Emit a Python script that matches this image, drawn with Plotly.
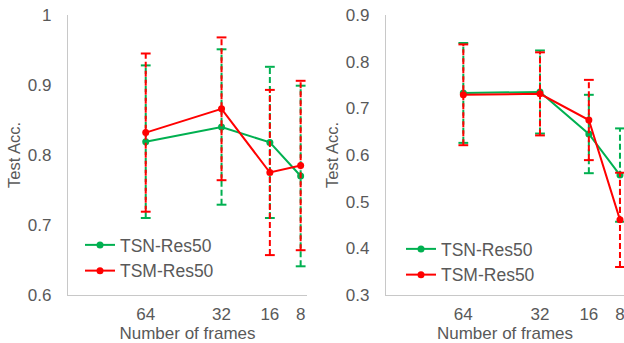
import plotly.graph_objects as go

# ---------------- data ----------------
frames = [64, 32, 16, 8]
frame_labels = ["64", "32", "16", "8"]

left_tsn = [0.819, 0.840, 0.818, 0.770]
left_tsn_err = [0.109, 0.111, 0.108, 0.129]
left_tsm = [0.832, 0.866, 0.775, 0.785]
left_tsm_err = [0.113, 0.102, 0.118, 0.121]

right_tsn = [0.733, 0.735, 0.645, 0.557]
right_tsn_err = [0.107, 0.089, 0.084, 0.100]
right_tsm = [0.729, 0.731, 0.675, 0.461]
right_tsm_err = [0.108, 0.089, 0.086, 0.101]

series_names = ["TSN-Res50", "TSM-Res50"]
GREEN = "#00B050"
RED = "#FF0000"
TEXT = "#595959"
AXIS = "#C8C8C8"
FONT = "Liberation Sans, Arial, sans-serif"

# power-scaled frame axis (as in the source chart spacing)
POW = 0.65
def xt(f):
    return f ** POW

xs = [xt(f) for f in frames]

fig = go.Figure()

def add_series(vals, errs, color, name, xa, ya, legend, showleg):
    # dashed error bars
    ex, ey, cx, cy = [], [], [], []
    for x, v, e in zip(xs, vals, errs):
        ex += [x, x, None]
        ey += [v - e, v + e, None]
        cx += [x, x]
        cy += [v - e, v + e]
    fig.add_trace(go.Scatter(x=ex, y=ey, mode="lines", xaxis=xa, yaxis=ya,
                             line=dict(color=color, width=2, dash="6px,3px"),
                             showlegend=False, hoverinfo="skip"))
    fig.add_trace(go.Scatter(x=cx, y=cy, mode="markers", xaxis=xa, yaxis=ya,
                             marker=dict(symbol="line-ew", size=7,
                                         line=dict(color=color, width=2)),
                             showlegend=False, hoverinfo="skip"))
    fig.add_trace(go.Scatter(x=xs, y=vals, mode="lines+markers", name=name,
                             xaxis=xa, yaxis=ya, legend=legend, showlegend=showleg,
                             line=dict(color=color, width=2),
                             marker=dict(color=color, size=7)))

add_series(left_tsn, left_tsn_err, GREEN, series_names[0], "x", "y", "legend", True)
add_series(left_tsm, left_tsm_err, RED, series_names[1], "x", "y", "legend", True)
add_series(right_tsn, right_tsn_err, GREEN, series_names[0], "x2", "y2", "legend2", True)
add_series(right_tsm, right_tsm_err, RED, series_names[1], "x2", "y2", "legend2", True)

W, H = 624, 343
ML, MR, MT, MB = 68, 0, 15, 48
pw = W - ML - MR
d1 = [0, (307 - ML) / pw]
d2 = [(386 - ML) / pw, 1]

xaxis_common = dict(
    tickmode="array", tickvals=xs, ticktext=frame_labels,
    showline=True, linecolor=AXIS, linewidth=1.3, showgrid=False, zeroline=False,
    ticks="", tickfont=dict(family=FONT, size=17, color=TEXT),
    ticklabelstandoff=3, automargin=False, ticklabeloverflow="allow",
    title=dict(text="Number of frames", font=dict(family=FONT, size=17, color=TEXT), standoff=7),
)
yaxis_common = dict(
    showline=True, linecolor=AXIS, linewidth=1.3, showgrid=False, zeroline=False,
    ticks="", dtick=0.1, tickfont=dict(family=FONT, size=17, color=TEXT),
    ticklabelstandoff=12, automargin=False,
    title=dict(text="Test Acc.", font=dict(family=FONT, size=16.5, color=TEXT), standoff=3),
)

fig.update_layout(
    width=W, height=H,
    margin=dict(l=ML, r=MR, t=MT, b=MB),
    paper_bgcolor="white", plot_bgcolor="white",
    xaxis=dict(domain=d1, range=[20.48, 3.41], anchor="y", **xaxis_common),
    yaxis=dict(domain=[0, 1], range=[0.6, 1.0], anchor="x", **yaxis_common),
    xaxis2=dict(domain=d2, range=[20.39, 3.58], anchor="y2", **xaxis_common),
    yaxis2=dict(domain=[0, 1], range=[0.3, 0.9], anchor="x2", **yaxis_common),
    legend=dict(x=(80 - ML) / pw, y=(295 - 227) / 280, xanchor="left", yanchor="top",
                bgcolor="rgba(0,0,0,0)", font=dict(family=FONT, size=17.5, color=TEXT),
                itemwidth=30, tracegroupgap=0),
    legend2=dict(x=(401 - ML) / pw, y=(295 - 231) / 280, xanchor="left", yanchor="top",
                 bgcolor="rgba(0,0,0,0)", font=dict(family=FONT, size=17.5, color=TEXT),
                 itemwidth=30, tracegroupgap=0),
    showlegend=True,
)

fig.write_html("out.html", config={"displayModeBar": False},
               post_script="document.body.style.margin='0px';document.body.style.padding='0px';")
